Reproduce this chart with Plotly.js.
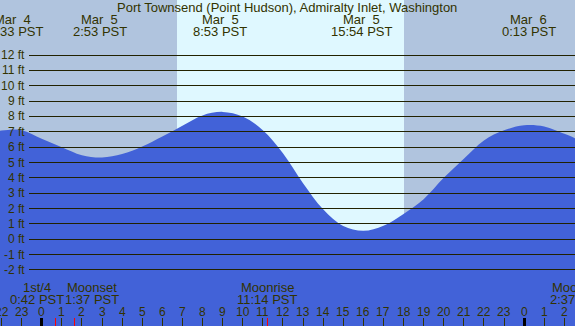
<!DOCTYPE html>
<html>
<head>
<meta charset="utf-8">
<script src="https://cdn.plot.ly/plotly-3.0.1.min.js"></script>
<style>
html,body{margin:0;padding:0;background:#b0c4de;}
#chart{width:575px;height:326px;}
#chart .shapelayer path{shape-rendering:crispEdges;}
</style>
</head>
<body>
<div id="chart"></div>
<script>
// ---- data (hours relative to midnight starting Mar 5, PST) ----
var tideHours = [-2.5, -2, -1, 0, 1, 2, 3, 4, 5, 6, 7, 8, 9, 10, 11, 12, 13, 14, 15, 16, 17, 18, 19, 20, 21, 22, 23, 24, 25, 26, 26.5, 27];
var tideFeet  = [7.0, 7.08, 7.11, 6.55, 6.0, 5.48, 5.33, 5.55, 6.05, 6.7, 7.4, 8.07, 8.3, 8.0, 7.1, 5.6, 3.65, 1.95, 0.86, 0.55, 0.88, 1.65, 2.61, 4.0, 5.24, 6.44, 7.1, 7.43, 7.35, 6.87, 6.6, 6.3];

var extremeDays  = [4, 5, 5, 5, 6];
var extremeTimes = ["22:33", "2:53", "8:53", "15:54", "0:13"];

var moonLabels = ["1st/4", "Moonset", "Moonrise", "Moonset"];
var moonDays   = [5, 5, 5, 6];
var moonTimes  = ["0:42", "1:37", "11:14", "2:37"];

var sunDay = 5;
var sunTimes = ["6:44", "18:02"];

var feetTicks = [-2, -1, 0, 1, 2, 3, 4, 5, 6, 7, 8, 9, 10, 11, 12];
var hourTicks = [-2, -1, 0, 1, 2, 3, 4, 5, 6, 7, 8, 9, 10, 11, 12, 13, 14, 15, 16, 17, 18, 19, 20, 21, 22, 23, 24, 25, 26];

var titleText = "Port Townsend (Point Hudson), Admiralty Inlet, Washington";

// ---- helpers ----
function toHour(day, t) {
  var p = t.split(":");
  return (day - 5) * 24 + parseInt(p[0], 10) + parseInt(p[1], 10) / 60;
}
var W = 575, H = 326;
var xRange = [-2.075, 26.53];
var yRange = [-5.658, 15.593];
var pxPerHour = W / (xRange[1] - xRange[0]);
function pyPaper(px) { return 1 - px / H; }

var FONT = "Liberation Sans, Arial, sans-serif";
var TXT = "#333300";

var traces = [
  { x: tideHours, y: tideHours.map(function(){ return yRange[0] - 1; }), mode: "lines",
    line: { width: 0, color: "rgba(0,0,0,0)" }, hoverinfo: "skip", showlegend: false },
  { x: tideHours, y: tideFeet, mode: "lines", fill: "tonexty", fillcolor: "#4262d8",
    line: { width: 0, shape: "spline", color: "#4262d8" }, hoverinfo: "skip", showlegend: false }
];

var shapes = [];
var annotations = [];

// place a text annotation at an hour, even if the hour lies just past the axis range
function hourAnno(h, py, text, size) {
  var x = h, shift = 0;
  if (h > xRange[1]) { x = xRange[1]; shift = (h - xRange[1]) * pxPerHour; }
  if (h < xRange[0]) { x = xRange[0]; shift = (h - xRange[0]) * pxPerHour; }
  annotations.push({ xref: "x", yref: "paper", x: x, xshift: shift, y: pyPaper(py),
    xanchor: "center", yanchor: "middle", text: text, showarrow: false,
    font: { family: FONT, size: size, color: TXT } });
}

// daylight band
shapes.push({ type: "rect", layer: "below", xref: "x", yref: "paper",
  x0: toHour(sunDay, sunTimes[0]), x1: toHour(sunDay, sunTimes[1]), y0: 0, y1: 1,
  fillcolor: "#dff8ff", line: { width: 0 } });

// horizontal foot lines and labels
feetTicks.forEach(function(f) {
  shapes.push({ type: "line", layer: "above", xref: "paper", yref: "y",
    x0: 29 / W, x1: 1, y0: f, y1: f, line: { color: "#222200", width: 1 } });
  annotations.push({ xref: "paper", yref: "y", x: 26.5 / W, y: f, xanchor: "right", yanchor: "middle",
    text: f + " ft", showarrow: false, font: { family: FONT, size: 12, color: TXT } });
});

// title
annotations.push({ xref: "paper", yref: "paper", x: 286.7 / W, y: pyPaper(7.2), xanchor: "center", yanchor: "middle",
  text: titleText, showarrow: false, font: { family: FONT, size: 13, color: TXT } });

// tide extremes labels
extremeTimes.forEach(function(t, i) {
  var h = toHour(extremeDays[i], t);
  hourAnno(h, 19.5, "Mar\u00a0\u00a0" + extremeDays[i], 13);
  hourAnno(h, 31.5, t + " PST", 13);
});

// hour ticks and labels
hourTicks.forEach(function(h) {
  var hh = ((h % 24) + 24) % 24;
  var midnight = hh === 0;
  shapes.push({ type: "line", layer: "above", xref: "x", yref: "paper", x0: h, x1: h,
    y0: 0, y1: pyPaper(318.3), line: { color: midnight ? "#000000" : TXT, width: midnight ? 3 : 1 } });
  hourAnno(h, 311.5, String(hh), 12);
});

// moon events: red ticks and labels pushed apart when they would overlap
var moonHours = moonTimes.map(function(t, i) { return toHour(moonDays[i], t); });
var labelPos = moonHours.slice();
var labelWidthH = 55 / pxPerHour;
for (var i = 1; i < labelPos.length; i++) {
  var d = labelPos[i] - labelPos[i - 1];
  if (d < labelWidthH) {
    var s = (labelWidthH - d) / 2;
    labelPos[i - 1] -= s;
    labelPos[i] += s;
  }
}
moonHours.forEach(function(h, i) {
  if (h >= xRange[0] && h <= xRange[1]) {
    shapes.push({ type: "line", layer: "above", xref: "x", yref: "paper", x0: h, x1: h,
      y0: 0, y1: pyPaper(318.3), line: { color: "#ff0000", width: 1 } });
  }
  hourAnno(labelPos[i], 287.2, moonLabels[i], 13);
  hourAnno(labelPos[i], 299.5, moonTimes[i] + " PST", 13);
});

var layout = {
  width: W, height: H, autosize: false,
  margin: { l: 0, r: 0, t: 0, b: 0, pad: 0 },
  paper_bgcolor: "#b0c4de", plot_bgcolor: "#b0c4de",
  xaxis: { range: xRange, visible: false, fixedrange: true },
  yaxis: { range: yRange, visible: false, fixedrange: true },
  shapes: shapes, annotations: annotations, showlegend: false
};

Plotly.newPlot("chart", traces, layout, { displayModeBar: false, staticPlot: true });
</script>
</body>
</html>
